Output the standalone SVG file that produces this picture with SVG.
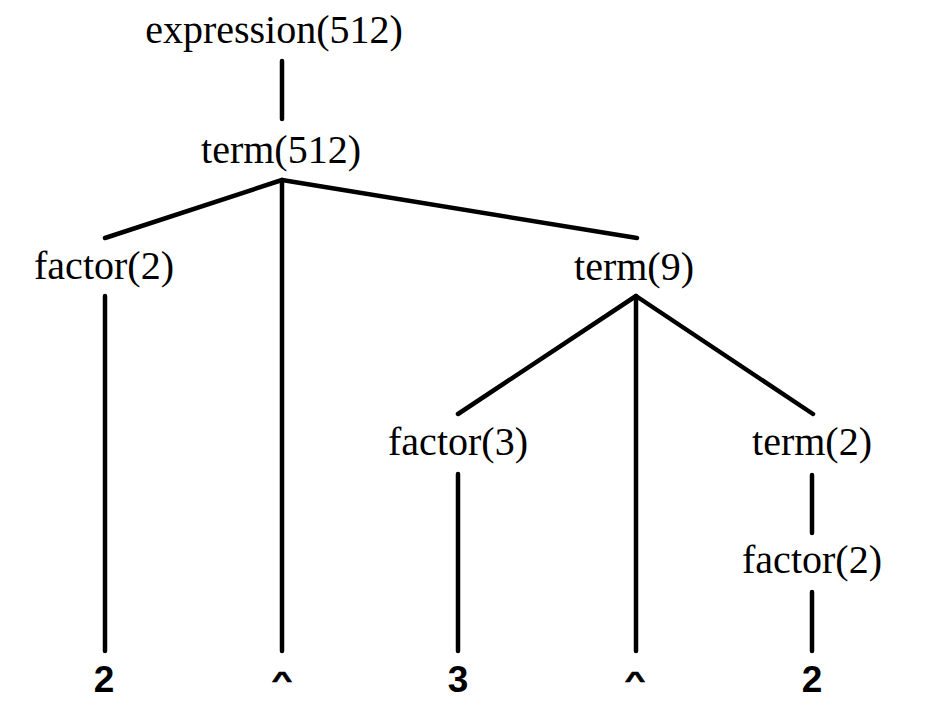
<svg xmlns="http://www.w3.org/2000/svg" width="931" height="709" viewBox="0 0 931 709">
<style>
.n{font-family:"Liberation Serif","Times New Roman",serif;font-size:40px;fill:#000;text-anchor:middle}
.t{font-family:"Liberation Sans",Arial,sans-serif;font-size:37px;font-weight:bold;fill:#000;text-anchor:middle}
.c{stroke:#000;stroke-width:1}
.e{stroke:#000;stroke-width:4.5;stroke-linecap:round;fill:none}
</style>
<rect width="931" height="709" fill="#fff"/>
<g id="connectors">
<line class="e" x1="282" y1="61" x2="282" y2="119"/>
<line class="e" x1="282" y1="180" x2="105" y2="238"/>
<line class="e" x1="282" y1="180" x2="637" y2="238"/>
<line class="e" x1="282" y1="180" x2="282" y2="651"/>
<line class="e" x1="105" y1="296" x2="105" y2="651"/>
<line class="e" x1="636" y1="296" x2="458" y2="414"/>
<line class="e" x1="636" y1="296" x2="636" y2="651"/>
<line class="e" x1="636" y1="296" x2="813" y2="414"/>
<line class="e" x1="458" y1="474" x2="458" y2="651"/>
<line class="e" x1="812" y1="475" x2="812" y2="533"/>
<line class="e" x1="812" y1="592" x2="812" y2="651"/>
</g>
<g id="expression"><text class="n" x="274" y="43">expression(512)</text></g>
<g id="term512"><text class="n" x="281" y="163">term(512)</text></g>
<g id="factor2a"><text class="n" x="104" y="279">factor(2)</text></g>
<g id="term9"><text class="n" x="634" y="280">term(9)</text></g>
<g id="factor3"><text class="n" x="458" y="455">factor(3)</text></g>
<g id="term2"><text class="n" x="812" y="455">term(2)</text></g>
<g id="factor2b"><text class="n" x="812" y="573">factor(2)</text></g>
<g id="tok1"><text class="t" x="104" y="692">2</text></g>
<g id="tok2"><text class="t c" transform="translate(282,688) scale(0.95,0.62)">^</text></g>
<g id="tok3"><text class="t" x="458" y="692">3</text></g>
<g id="tok4"><text class="t c" transform="translate(635,688) scale(0.95,0.62)">^</text></g>
<g id="tok5"><text class="t" x="812" y="692">2</text></g>
</svg>
